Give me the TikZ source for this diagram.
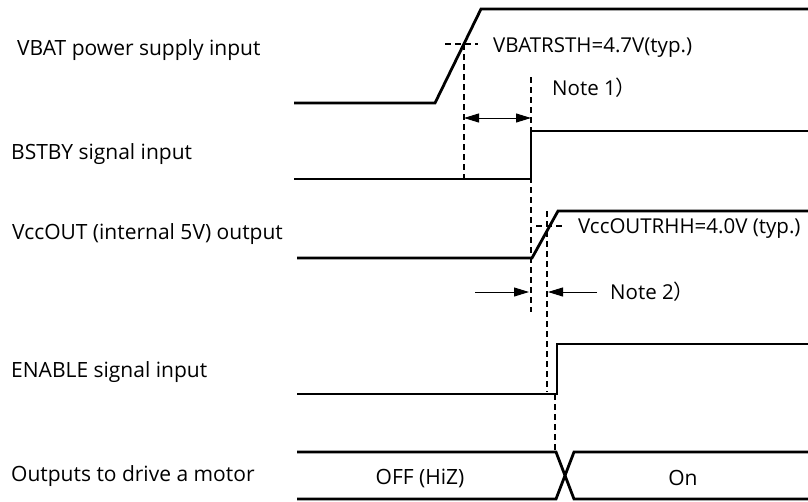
\documentclass[tikz,border=0pt]{standalone}
\usepackage{fontspec}
\setmainfont{Open Sans}
\newfontfamily\cjk{Noto Sans CJK JP}
\usetikzlibrary{arrows.meta}

\tikzset{
    sig/.style={line width=2.8pt},
    guide/.style={line width=1.2pt, dash pattern=on 6pt off 4pt},
    dim/.style={line width=1pt},
    lbl/.style={anchor=base west, inner sep=0pt, font=\fontsize{21}{25}\selectfont},
    note/.style={anchor=base west, inner sep=0pt, font=\fontsize{20.5}{24}\selectfont},
    state/.style={inner sep=0pt, font=\fontsize{21}{25}\selectfont},
}

\begin{document}
\begin{tikzpicture}[x=1pt, y=-1pt, >={Triangle[length=15pt, width=9pt]}]
    \useasboundingbox (0,0) rectangle (808,501);

    % Signal names
    \node[lbl] (vbat)   at (17, 55)  {VBAT power supply input};
    \node[lbl] (bstby)  at (11, 159) {BSTBY signal input};
    \node[lbl] (vccout) at (12, 239) {VccOUT (internal 5V) output};
    \node[lbl] (enable) at (11, 377) {ENABLE signal input};
    \node[lbl] (motor)  at (11, 481) {Outputs to drive a motor};

    % VBAT
    \draw[sig] (294, 103) -- (435, 103) -- (481, 9) -- (808, 9);
    \coordinate (vbatth) at (464, 44);
    \draw[guide] (445, 44) -- (478, 44);
    \node[note] (vbatnote) at (493, 52) {VBATRSTH=4.7V(typ.)};

    % BSTBY
    \draw[sig] (294, 179) -- (531, 179) -- (531, 131) -- (808, 131);
    \coordinate (bstbyup) at (531, 77);
    \coordinate (bstbylo) at (531, 312);
    \draw[guide] (vbatth) -- (464, 179);
    \draw[guide] (bstbyup) -- (bstbylo);
    \draw[dim, <->] (464, 118) -- (531, 118);
    \node[note] (note1) at (552, 95) {Note 1{\cjk ）}};

    % VccOUT
    \draw[sig] (297, 258) -- (532, 258) -- (558, 211) -- (808, 211);
    \coordinate (vccth) at (547, 211);
    \coordinate (vcclo) at (547, 392);
    \draw[guide] (536, 226) -- (564, 226);
    \draw[guide] (vccth) -- (vcclo);
    \node[note] (vccnote) at (578, 233) {VccOUTRHH=4.0V (typ.)};

    % Note 2
    \draw[dim, ->] (475, 292) -- (529, 292);
    \draw[dim, ->] (597, 292) -- (548, 292);
    \node[note] (note2) at (610, 299) {Note 2{\cjk ）}};

    % ENABLE
    \draw[sig] (297, 394) -- (557, 394) -- (557, 344) -- (808, 344);
    \coordinate (enlo) at (555, 394);
    \coordinate (motorup) at (555, 452);
    \draw[guide] (enlo) -- (motorup);

    % Motor outputs
    \draw[sig] (297, 452) -- (556, 452) -- (574, 499) -- (808, 499);
    \draw[sig] (297, 499) -- (556, 499) -- (574, 452) -- (808, 452);
    \node[state] (off) at (420, 478) {OFF (HiZ)};
    \node[state] (on)  at (683, 478) {On};
\end{tikzpicture}
\end{document}
